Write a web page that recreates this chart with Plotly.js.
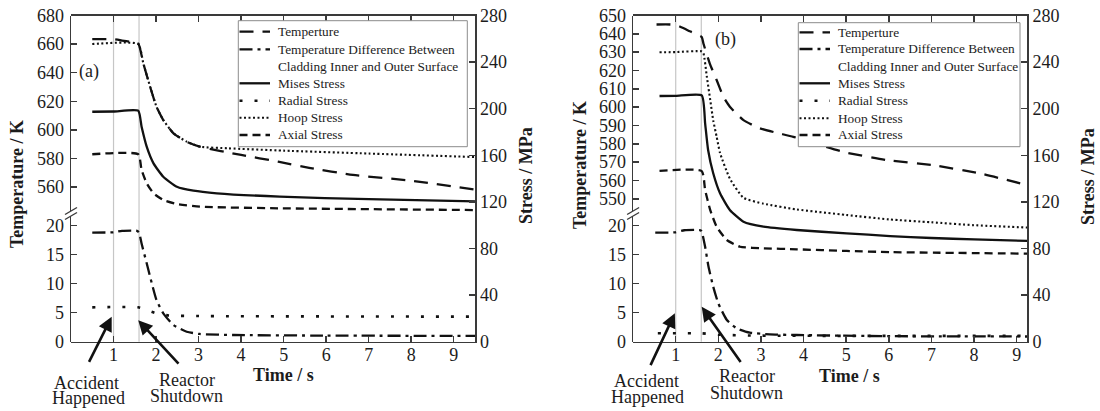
<!DOCTYPE html>
<html>
<head>
<meta charset="utf-8">
<script src="https://cdn.plot.ly/plotly-3.0.1.min.js"></script>
<style>
  html, body { margin: 0; padding: 0; background: #ffffff; }
  #chart { width: 1100px; height: 411px; }
</style>
</head>
<body>
<div id="chart"></div>
<script>
// ---------------- Case (a) ----------------
// Fuel temperature (K, upper left scale)
const tA_temp = [0.5, 1.0, 1.2, 1.4, 1.58, 1.7, 1.86, 2.01, 2.17, 2.41, 2.72, 3.03, 4.0, 4.87, 5.6, 6.63, 8.0, 9.5];
const A_temp  = [663.5, 663.4, 662.5, 661.5, 660.5, 646.6, 630.2, 616.2, 606.9, 597.6, 591.7, 588.3, 582.5, 577.8, 573.5, 568.5, 564.5, 558.3];
// Temperature difference across the cladding (K, lower left scale)
const tA_dT = [0.5, 1.0, 1.2, 1.55, 1.6, 1.66, 1.78, 1.90, 2.01, 2.17, 2.41, 2.72, 3.03, 3.82, 6.0, 9.5];
const A_dT  = [18.8, 18.85, 19.1, 19.1, 18.8, 16.9, 13.5, 10.05, 7.18, 4.89, 2.87, 1.72, 1.33, 1.15, 1.05, 1.0];
// Stresses (MPa, right scale)
const tA_mises = [0.5, 1.0, 1.58, 1.66, 1.78, 1.94, 2.17, 2.49, 2.88, 3.43, 4.91, 7.0, 9.5];
const A_mises  = [197.4, 197.6, 198.3, 184.5, 167.4, 153.1, 141.6, 133.0, 129.6, 127.4, 124.5, 122.3, 120.5];
const tA_radial = [0.5, 1.58, 1.8, 2.0, 2.3, 3.0, 9.5];
const A_radial  = [29.5, 29.5, 27.0, 24.5, 22.5, 22.0, 21.5];
const tA_hoop = [0.5, 1.58, 1.7, 1.86, 2.01, 2.17, 2.41, 2.72, 3.03, 3.7, 5.0, 7.0, 9.5];
const A_hoop  = [255.5, 255.5, 239.0, 219.0, 201.7, 190.3, 178.9, 171.7, 167.4, 166.0, 164.0, 161.5, 158.5];
const tA_axial = [0.5, 1.58, 1.66, 1.78, 1.94, 2.17, 2.49, 3.03, 4.91, 9.5];
const A_axial  = [160.9, 160.9, 147.4, 136.0, 127.4, 121.6, 118.2, 115.9, 114.5, 113.0];

// ---------------- Case (b) ----------------
const tB_temp = [0.55, 0.87, 1.02, 1.33, 1.61, 1.65, 1.80, 1.96, 2.12, 2.27, 2.59, 2.98, 3.37, 3.76, 4.23, 4.93, 5.95, 7.05, 8.14, 9.25];
const B_temp  = [645.1, 645.1, 644.7, 641.4, 638.3, 634.7, 623.8, 614.8, 605.6, 600.2, 592.9, 588.4, 586.0, 583.8, 580.5, 575.6, 571.1, 568.3, 563.8, 557.5];
const tB_dT = [0.52, 1.0, 1.2, 1.58, 1.61, 1.69, 1.77, 1.88, 2.0, 2.2, 2.43, 2.74, 3.21, 3.84, 6.03, 9.25];
const B_dT  = [18.8, 18.85, 19.2, 19.2, 19.0, 16.35, 12.9, 9.47, 6.6, 3.74, 2.3, 1.55, 1.27, 1.15, 0.95, 0.9];
const tB_mises = [0.62, 1.0, 1.61, 1.69, 1.76, 1.88, 2.04, 2.27, 2.59, 3.06, 3.84, 5.01, 6.03, 7.0, 8.0, 9.25];
const B_mises  = [210.9, 211.0, 211.5, 187.5, 164.6, 144.6, 127.4, 113.1, 103.0, 98.7, 95.9, 93.0, 90.7, 89.0, 87.8, 86.5];
const tB_radial = [0.58, 1.6, 2.0, 3.0, 9.25];
const B_radial  = [7.2, 7.2, 6.0, 5.2, 5.0];
const tB_hoop = [0.62, 1.0, 1.6, 1.65, 1.73, 1.81, 1.88, 1.96, 2.04, 2.27, 2.59, 3.06, 3.84, 5.0, 6.0, 7.0, 8.0, 9.25];
const B_hoop  = [248.4, 248.6, 249.3, 247.6, 227.5, 207.5, 190.0, 176.0, 162.0, 140.0, 123.5, 118.5, 113.5, 108.8, 105.0, 102.5, 100.0, 98.0];
const tB_axial = [0.62, 1.61, 1.69, 1.81, 1.96, 2.20, 2.51, 3.06, 3.84, 5.01, 6.03, 9.25];
const B_axial  = [146.7, 146.5, 130.2, 113.0, 98.7, 87.3, 81.5, 80.2, 79.3, 77.9, 76.9, 75.6];

// Events: accident at 1 s, reactor shutdown
const eventTimes = [1.0, 1.6];
const eventLabels = [["Accident", "Happened"], ["Reactor", "Shutdown"]];

// Axis ticks and ranges
const timeTicks = [1, 2, 3, 4, 5, 6, 7, 8, 9];
const dTTicks = [0, 5, 10, 15, 20];
const tempTicksA = [560, 580, 600, 620, 640, 660, 680];
const tempTicksB = [550, 560, 570, 580, 590, 600, 610, 620, 630, 640, 650];
const stressTicks = [0, 40, 80, 120, 160, 200, 240, 280];
const legendLabels = ["Temperture", "Temperature Difference Between", "Cladding Inner and Outer Surface",
                      "Mises Stress", "Radial Stress", "Hoop Stress", "Axial Stress"];

// ---------------- drawing ----------------
const W = 1100, H = 411;
const px = v => v / W;          // pixel x -> paper
const py = v => 1 - v / H;      // pixel y -> paper
const FONT = '"Liberation Serif", "Times New Roman", serif';
const INK = '#1c1c1c';
const AX = '#3a3a3a';

const TOP = 15.5, BOTTOM = 341.7, LOW_TOP = 216, UP_BOTTOM = 211;

const STY = {
  temp:   { dash: '14px,9px', width: 2.3 },
  dT:     { dash: '13px,5px,3px,5px', width: 2.3 },
  mises:  { dash: 'solid', width: 2.3 },
  radial: { dash: '3px,12px', width: 2.6 },
  hoop:   { dash: '2px,2.5px', width: 2.1 },
  axial:  { dash: '8px,5px', width: 2.3 }
};
const ORDER = ['temp', 'dT', 'mises', 'radial', 'hoop', 'axial'];

function tr(x, y, xa, ya, key) {
  return { x: x, y: y, xaxis: xa, yaxis: ya, type: 'scatter', mode: 'lines',
           line: { color: '#111', width: STY[key].width, dash: STY[key].dash, shape: 'spline', smoothing: 0.5 },
           showlegend: false, hoverinfo: 'skip' };
}

const data = [
  tr(tA_temp, A_temp, 'x', 'y2', 'temp'),
  tr(tA_dT, A_dT, 'x', 'y', 'dT'),
  tr(tA_mises, A_mises, 'x', 'y3', 'mises'),
  tr(tA_radial, A_radial, 'x', 'y3', 'radial'),
  tr(tA_hoop, A_hoop, 'x', 'y3', 'hoop'),
  tr(tA_axial, A_axial, 'x', 'y3', 'axial'),
  tr(tB_temp, B_temp, 'x2', 'y5', 'temp'),
  tr(tB_dT, B_dT, 'x2', 'y4', 'dT'),
  tr(tB_mises, B_mises, 'x2', 'y6', 'mises'),
  tr(tB_radial, B_radial, 'x2', 'y6', 'radial'),
  tr(tB_hoop, B_hoop, 'x2', 'y6', 'hoop'),
  tr(tB_axial, B_axial, 'x2', 'y6', 'axial')
];

const axisBase = {
  showline: true, linecolor: AX, linewidth: 1.5,
  ticks: 'inside', ticklen: 6, tickwidth: 1.5, tickcolor: AX,
  showgrid: false, zeroline: false, fixedrange: true,
  tickfont: { family: FONT, size: 18, color: INK }
};

const fullDom = [py(BOTTOM), py(TOP)];
const lowDom = [py(BOTTOM), py(LOW_TOP)];
const upDom = [py(UP_BOTTOM), py(TOP)];
const dTTop = (BOTTOM - LOW_TOP) / 5.805;
const upBottom = (top, pxPerK) => top - (UP_BOTTOM - TOP) / pxPerK;

const layout = {
  width: W, height: H,
  margin: { l: 0, r: 0, t: 0, b: 0 },
  paper_bgcolor: '#ffffff', plot_bgcolor: 'rgba(0,0,0,0)',
  showlegend: false,
  font: { family: FONT, color: INK },
  xaxis:  Object.assign({}, axisBase, { domain: [px(71), px(475)], range: [0, 9.5], anchor: 'y3', mirror: 'ticks', tickvals: timeTicks, ticklabelstandoff: -4 }),
  yaxis:  Object.assign({}, axisBase, { domain: lowDom, range: [0, dTTop], anchor: 'x', tickvals: dTTicks, ticklabelstandoff: 2 }),
  yaxis2: Object.assign({}, axisBase, { domain: upDom, range: [upBottom(680, 1.43), 680], anchor: 'x', tickvals: tempTicksA, ticklabelstandoff: 2 }),
  yaxis3: Object.assign({}, axisBase, { domain: fullDom, range: [0, 280], anchor: 'x', side: 'right', tickvals: stressTicks, ticklabelstandoff: 0 }),
  xaxis2: Object.assign({}, axisBase, { domain: [px(633.1), px(1027.3)], range: [0, 9.25], anchor: 'y6', mirror: 'ticks', tickvals: timeTicks, ticklabelstandoff: -4 }),
  yaxis4: Object.assign({}, axisBase, { domain: lowDom, range: [0, dTTop], anchor: 'x2', tickvals: dTTicks, ticklabelstandoff: 2 }),
  yaxis5: Object.assign({}, axisBase, { domain: upDom, range: [upBottom(650, 1.833), 650], anchor: 'x2', tickvals: tempTicksB, ticklabelstandoff: 2 }),
  yaxis6: Object.assign({}, axisBase, { domain: fullDom, range: [0, 280], anchor: 'x2', side: 'right', tickvals: stressTicks, ticklabelstandoff: 0 }),
  shapes: [],
  annotations: []
};

// Event marker lines
[['x', eventTimes], ['x2', eventTimes]].forEach(([xa, times]) => {
  times.forEach(t => layout.shapes.push({
    type: 'line', xref: xa, yref: 'paper', x0: t, x1: t, y0: py(BOTTOM), y1: py(TOP),
    line: { color: '#c6c6c6', width: 1.2 }, layer: 'below'
  }));
});

// Axis break marks on the left temperature scale
[71, 633.1].forEach(x0 => {
  [UP_BOTTOM, LOW_TOP].forEach(yc => layout.shapes.push({
    type: 'line', xref: 'paper', yref: 'paper',
    x0: px(x0 - 6), y0: py(yc + 3.5), x1: px(x0 + 6), y1: py(yc - 3.5),
    line: { color: AX, width: 1.4 }
  }));
});

// Legend boxes
function legendBox(box, sx0, sx1, tx, rows) {
  layout.shapes.push({ type: 'rect', xref: 'paper', yref: 'paper', layer: 'above',
    x0: px(box[0]), x1: px(box[2]), y0: py(box[3]), y1: py(box[1]),
    fillcolor: '#ffffff', line: { color: '#8c8c8c', width: 1 } });
  let k = 0;
  legendLabels.forEach((lab, i) => {
    if (i !== 2) {
      const key = ORDER[k++];
      layout.shapes.push({ type: 'line', xref: 'paper', yref: 'paper', layer: 'above',
        x0: px(sx0), x1: px(sx1), y0: py(rows[i]), y1: py(rows[i]),
        line: { color: '#111', width: STY[key].width, dash: STY[key].dash } });
    }
    layout.annotations.push({ xref: 'paper', yref: 'paper', x: px(tx), y: py(rows[i]),
      xanchor: 'left', yanchor: 'middle', showarrow: false, text: lab,
      font: { family: FONT, size: 13.3, color: INK } });
  });
}
legendBox([238.3, 20.7, 467.3, 146.7], 239.5, 270, 276, [31.7, 49.3, 66, 83.3, 100.7, 117.7, 135]);
legendBox([798.3, 22.7, 1020, 146.7], 799.5, 830, 836, [32.3, 49, 66, 83.3, 100.7, 118.3, 135]);

// Text helper
function txt(x, y, s, size, opts) {
  layout.annotations.push(Object.assign({ xref: 'paper', yref: 'paper', x: px(x), y: py(y),
    xanchor: 'center', yanchor: 'middle', showarrow: false, text: s,
    font: { family: FONT, size: size, color: INK } }, opts || {}));
}

// Axis titles
txt(17, 184, '<b>Temperature / K</b>', 18, { textangle: -90 });
txt(526, 176, '<b>Stress / MPa</b>', 18, { textangle: -90 });
txt(283, 375, '<b>Time / s</b>', 18);
txt(580, 165, '<b>Temperature / K</b>', 18, { textangle: -90 });
txt(1088, 177, '<b>Stress / MPa</b>', 18, { textangle: -90 });
txt(849, 376, '<b>Time / s</b>', 18);

// Panel tags
txt(89, 71.5, '(a)', 18);
txt(725, 39, '(b)', 18);

// Event arrows and labels
function arrow(xa, ya, x, y, ax, ay) {
  layout.annotations.push({ xref: xa, yref: ya, x: x, y: y, ax: ax, ay: ay,
    axref: 'pixel', ayref: 'pixel', text: '', showarrow: true,
    arrowhead: 2, arrowsize: 1.1, arrowwidth: 2.6, arrowcolor: '#111', standoff: 0 });
}
arrow('x', 'y', 0.957, 4.3, -23.4, 46.6);
arrow('x', 'y', eventTimes[1] - 0.02, 3.7, 41.7, 45);
arrow('x2', 'y4', 0.98, 4.9, -25, 53.4);
arrow('x2', 'y4', eventTimes[1] + 0.01, 6.0, 40, 56.6);

txt(86.7, 382.5, eventLabels[0][0], 18);
txt(88.3, 398, eventLabels[0][1], 18);
txt(186.7, 380, eventLabels[1][0], 18);
txt(186.7, 396, eventLabels[1][1], 18);
txt(646, 381, eventLabels[0][0], 18);
txt(647.3, 396.7, eventLabels[0][1], 18);
txt(746.7, 376, eventLabels[1][0], 18);
txt(746.7, 392.7, eventLabels[1][1], 18);

Plotly.newPlot('chart', data, layout, { staticPlot: true, displayModeBar: false });
</script>
</body>
</html>
